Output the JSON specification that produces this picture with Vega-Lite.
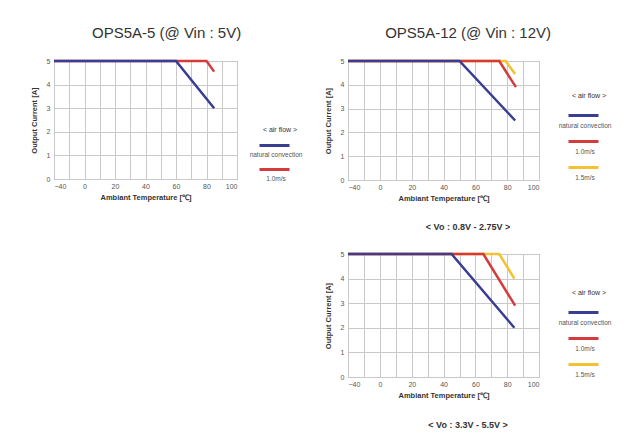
{
  "$schema": "https://vega.github.io/schema/vega-lite/v6.json",
  "padding": {"left": 29, "top": 25, "right": 2, "bottom": 2},
  "background": "white",
  "config": {
    "font": "Liberation Sans",
    "view": {"stroke": "#9a9a9a", "strokeWidth": 1},
    "axis": {"gridColor": "#c9c9c9", "gridWidth": 1, "domain": false, "ticks": false, "labelFontSize": 7, "labelColor": "#555", "titleFontSize": 7.5, "titleFontWeight": "bold", "titleColor": "#333", "labelFont": "Liberation Sans", "titleFont": "Liberation Sans"},
    "legend": {"titleFont": "Liberation Sans", "labelFont": "Liberation Sans"},
    "concat": {"spacing": 19}
  },
  "resolve": {"scale": {"color": "independent", "x": "independent", "y": "independent"}, "legend": {"color": "independent"}},
  "datasets": {
    "c1": [
      {"series": "natural convection", "temp": -40, "current": 5},
      {"series": "natural convection", "temp": 60, "current": 5},
      {"series": "natural convection", "temp": 85, "current": 3},
      {"series": "1.0m/s", "temp": -40, "current": 5},
      {"series": "1.0m/s", "temp": 80, "current": 5},
      {"series": "1.0m/s", "temp": 85, "current": 4.55}
    ],
    "c2": [
      {"series": "natural convection", "temp": -40, "current": 5},
      {"series": "natural convection", "temp": 50, "current": 5},
      {"series": "natural convection", "temp": 85, "current": 2.5},
      {"series": "1.0m/s", "temp": -40, "current": 5},
      {"series": "1.0m/s", "temp": 75, "current": 5},
      {"series": "1.0m/s", "temp": 85.5, "current": 3.9},
      {"series": "1.5m/s", "temp": -40, "current": 5},
      {"series": "1.5m/s", "temp": 79, "current": 5},
      {"series": "1.5m/s", "temp": 85, "current": 4.45}
    ],
    "c3": [
      {"series": "natural convection", "temp": -40, "current": 5},
      {"series": "natural convection", "temp": 45, "current": 5},
      {"series": "natural convection", "temp": 84.5, "current": 2},
      {"series": "1.0m/s", "temp": -40, "current": 5},
      {"series": "1.0m/s", "temp": 65, "current": 5},
      {"series": "1.0m/s", "temp": 85, "current": 2.9},
      {"series": "1.5m/s", "temp": -40, "current": 5},
      {"series": "1.5m/s", "temp": 75, "current": 5},
      {"series": "1.5m/s", "temp": 84.5, "current": 4}
    ]
  },
  "hconcat": [
    {
      "width": 183,
      "height": 118,
      "data": {"name": "c1"},
      "title": {"text": "OPS5A-5 (@ Vin : 5V)", "fontSize": 15, "fontWeight": "normal", "color": "#333", "offset": 15, "anchor": "middle", "frame": "bounds"},
      "encoding": {
        "x": {"field": "temp", "type": "quantitative", "title": "Ambiant Temperature [℃]",
          "scale": {"domain": [-40, 0, 100], "range": [0, 30.5, 183], "nice": false, "zero": false},
          "axis": {"values": [-40, -20, 0, 10, 20, 30, 40, 50, 60, 70, 80, 90, 100], "labelExpr": "datum.value == -20 || datum.value % 20 != 0 ? '' : datum.label", "labelPadding": 3, "titlePadding": 4}},
        "y": {"field": "current", "type": "quantitative", "title": "Output Current [A]",
          "scale": {"domain": [0, 5], "nice": false},
          "axis": {"values": [0, 1, 2, 3, 4, 5], "labelPadding": 4, "titlePadding": 8}},
        "color": {"field": "series", "type": "nominal",
          "scale": {"domain": ["natural convection", "1.0m/s"], "range": ["#3a3d94", "#d63b3b"]},
          "legend": {"orient": "none", "legendX": 204, "legendY": 65, "title": "< air flow >", "symbolType": "stroke", "symbolStrokeWidth": 3, "symbolSize": 900, "clipHeight": 23, "labelAlign": "center", "labelOffset": -15, "rowPadding": 0, "padding": 0, "titleFontSize": 7, "titleFontWeight": "normal", "titleColor": "#333", "titlePadding": 1, "titleAnchor": "middle", "labelFontSize": 6.5, "labelColor": "#555", "encode": {"labels": {"update": {"dy": {"value": 9}}}}}}
      },
      "layer": [
        {"transform": [{"filter": "datum.series == '1.0m/s'"}], "mark": {"type": "line", "strokeWidth": 2.5}},
        {"transform": [{"filter": "datum.series == 'natural convection'"}], "mark": {"type": "line", "strokeWidth": 2.5}}
      ]
    },
    {
      "title": {"text": "OPS5A-12 (@ Vin : 12V)", "fontSize": 15, "fontWeight": "normal", "color": "#333", "offset": 15, "anchor": "middle", "frame": "bounds"},
      "spacing": 16,
      "resolve": {"scale": {"color": "independent", "x": "independent", "y": "independent"}, "legend": {"color": "independent"}},
      "vconcat": [
        {
          "width": 191,
          "height": 119,
          "data": {"name": "c2"},
          "title": {"text": "< Vo : 0.8V - 2.75V >", "orient": "bottom", "fontSize": 9, "fontWeight": "bold", "color": "#333", "offset": 21, "anchor": "middle", "frame": "bounds"},
          "encoding": {
            "x": {"field": "temp", "type": "quantitative", "title": "Ambiant Temperature [℃]",
              "scale": {"domain": [-40, 0, 100], "range": [0, 32, 191], "nice": false, "zero": false},
              "axis": {"values": [-40, -20, 0, 10, 20, 30, 40, 50, 60, 70, 80, 90, 100], "labelExpr": "datum.value == -20 || datum.value % 20 != 0 ? '' : datum.label", "labelPadding": 3, "titlePadding": 4}},
            "y": {"field": "current", "type": "quantitative", "title": "Output Current [A]",
              "scale": {"domain": [0, 5], "nice": false},
              "axis": {"values": [0, 1, 2, 3, 4, 5], "labelPadding": 4, "titlePadding": 8}},
            "color": {"field": "series", "type": "nominal",
              "scale": {"domain": ["natural convection", "1.0m/s", "1.5m/s"], "range": ["#3a3d94", "#d63b3b", "#f2c230"]},
              "legend": {"orient": "none", "legendX": 219, "legendY": 31, "title": "< air flow >", "symbolType": "stroke", "symbolStrokeWidth": 3, "symbolSize": 900, "clipHeight": 25, "labelAlign": "center", "labelOffset": -15, "rowPadding": 0, "padding": 0, "titleFontSize": 7, "titleFontWeight": "normal", "titleColor": "#333", "titlePadding": 4, "titleAnchor": "middle", "labelFontSize": 6.5, "labelColor": "#555", "encode": {"labels": {"update": {"dy": {"value": 10}}}}}}
          },
          "layer": [
            {"transform": [{"filter": "datum.series == '1.5m/s'"}], "mark": {"type": "line", "strokeWidth": 2.5}},
            {"transform": [{"filter": "datum.series == '1.0m/s'"}], "mark": {"type": "line", "strokeWidth": 2.5}},
            {"transform": [{"filter": "datum.series == 'natural convection'"}], "mark": {"type": "line", "strokeWidth": 2.5}}
          ]
        },
        {
          "width": 191,
          "height": 123,
          "data": {"name": "c3"},
          "title": {"text": "< Vo : 3.3V - 5.5V >", "orient": "bottom", "fontSize": 9, "fontWeight": "bold", "color": "#333", "offset": 22, "anchor": "middle", "frame": "bounds"},
          "encoding": {
            "x": {"field": "temp", "type": "quantitative", "title": "Ambiant Temperature [℃]",
              "scale": {"domain": [-40, 0, 100], "range": [0, 32, 191], "nice": false, "zero": false},
              "axis": {"values": [-40, -20, 0, 10, 20, 30, 40, 50, 60, 70, 80, 90, 100], "labelExpr": "datum.value == -20 || datum.value % 20 != 0 ? '' : datum.label", "labelPadding": 3, "titlePadding": 4}},
            "y": {"field": "current", "type": "quantitative", "title": "Output Current [A]",
              "scale": {"domain": [0, 5], "nice": false},
              "axis": {"values": [0, 1, 2, 3, 4, 5], "labelPadding": 4, "titlePadding": 8}},
            "color": {"field": "series", "type": "nominal",
              "scale": {"domain": ["natural convection", "1.0m/s", "1.5m/s"], "range": ["#3a3d94", "#d63b3b", "#f2c230"]},
              "legend": {"orient": "none", "legendX": 219, "legendY": 35, "title": "< air flow >", "symbolType": "stroke", "symbolStrokeWidth": 3, "symbolSize": 900, "clipHeight": 25, "labelAlign": "center", "labelOffset": -15, "rowPadding": 0, "padding": 0, "titleFontSize": 7, "titleFontWeight": "normal", "titleColor": "#333", "titlePadding": 4, "titleAnchor": "middle", "labelFontSize": 6.5, "labelColor": "#555", "encode": {"labels": {"update": {"dy": {"value": 10}}}}}}
          },
          "layer": [
            {"transform": [{"filter": "datum.series == '1.5m/s'"}], "mark": {"type": "line", "strokeWidth": 2.5}},
            {"transform": [{"filter": "datum.series == '1.0m/s'"}], "mark": {"type": "line", "strokeWidth": 2.5}},
            {"transform": [{"filter": "datum.series == 'natural convection'"}], "mark": {"type": "line", "strokeWidth": 2.5}}
          ]
        }
      ]
    }
  ]
}
